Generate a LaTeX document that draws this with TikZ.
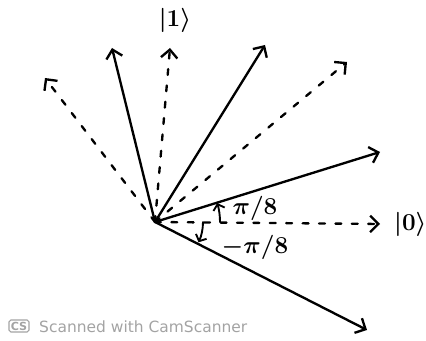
\documentclass[tikz,border=0pt]{standalone}
\usepackage{fontspec}
\newfontfamily\camfont{DejaVu Sans}
\usetikzlibrary{
    arrows.meta,
    positioning
}

\begin{document}
\begin{tikzpicture}[x=0.03cm, y=0.03cm,
    vec/.style={line width=2pt, line cap=round, -{Straight Barb[length=7pt, width=14pt, line width=2pt]}},
    basis/.style={vec, dash pattern=on 5pt off 9pt},
    angarrow/.style={line width=1.6pt, line cap=round, -{Straight Barb[length=4.5pt, width=10pt, line width=1.6pt]}},
    ket/.style={font=\fontsize{20.74}{24}\selectfont\boldmath, inner sep=0pt},
    anglabel/.style={font=\fontsize{20.74}{24}\selectfont\boldmath, inner sep=0pt},
    scangray/.style={color=black!36, font=\camfont\fontsize{13.2}{15}\selectfont}]
                        \useasboundingbox (0, 0) rectangle (426, 340);
                        \coordinate (O) at (155, 118);
                        \coordinate (e0) at (380, 116);
                        \coordinate (e1) at (170, 292);
                        \coordinate (d45) at (347, 278);
                        \coordinate (d135) at (45, 262);
                        \coordinate (s22) at (380, 188);
                        \coordinate (s67) at (265, 295);
                        \coordinate (s112) at (112, 292);
                        \coordinate (sm22) at (367, 10);
                        \node[ket] (ket1) at (175, 320) {$|1\rangle$};
                        \node[ket, anchor=west] (ket0) at (394, 116) {$|0\rangle$};
                        \node[anglabel] (plus) at (255, 132) {$\pi/8$};
                        \node[anglabel] (minus) at (255, 93) {$-\pi/8$};
                        \draw
                        (O) edge[basis] (e0)
                        (O) edge[basis] (e1)
                        (O) edge[basis] (d45)
                        (O) edge[basis] (d135)
                        (O) edge[vec] (s22)
                        (O) edge[vec] (s67)
                        (O) edge[vec] (s112)
                        (O) edge[vec] (sm22);
                        \draw[angarrow] ([shift={(0:65)}]O) arc[start angle=0, end angle=17, radius=65];
                        \draw[angarrow] ([shift={(0:48)}]O) arc[start angle=0, end angle=-25, radius=48];
                        \node[scangray, draw, rounded corners=1.5pt, line width=1pt, inner sep=1.5pt, font=\camfont\bfseries\fontsize{9.5}{10}\selectfont] (cs) at (19, 14) {CS};
                        \node[scangray, anchor=west, inner sep=0pt] (scan) at (39, 13) {Scanned with CamScanner};
\end{tikzpicture}
\end{document}
